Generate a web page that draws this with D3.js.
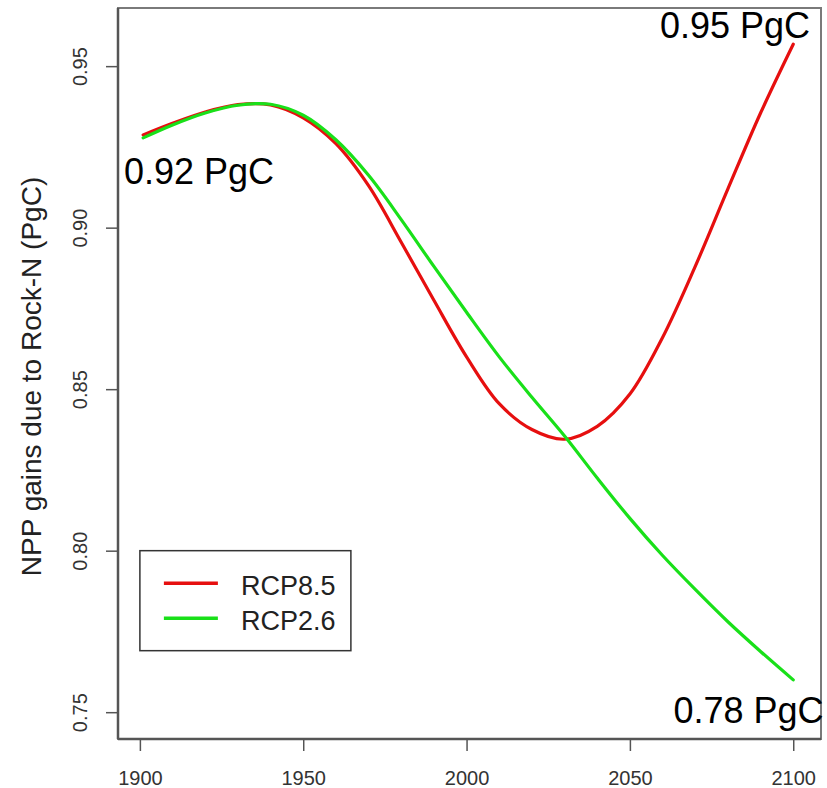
<!DOCTYPE html>
<html>
<head>
<meta charset="utf-8">
<script src="https://cdn.jsdelivr.net/npm/d3@7"></script>
<style>
	body { margin: 0; background: #fff; }
	text { font-family: "Liberation Sans", Arial, Helvetica, sans-serif; }
</style>
</head>
<body>
<div id="chart"></div>
<script>

// values (PgC)
const years = [1901, 1910, 1920, 1930, 1940, 1950, 1960, 1970, 1980, 1990, 2000,
	2010, 2020, 2030, 2040, 2050, 2060, 2070, 2080, 2090, 2100];
const rcp85 = [0.9287, 0.9323, 0.9358, 0.9381, 0.9380, 0.9340, 0.9260, 0.9130, 0.8955, 0.8775, 0.8600,
	0.8455, 0.8375, 0.8345, 0.8385, 0.8485, 0.8660, 0.8880, 0.9120, 0.9355, 0.9568];
const rcp26 = [0.9278, 0.9318, 0.9355, 0.9379, 0.9382, 0.9348, 0.9272, 0.9162, 0.9025, 0.8880, 0.8738,
	0.8600, 0.8475, 0.8355, 0.8225, 0.8100, 0.7985, 0.7880, 0.7780, 0.7688, 0.7600];

const seriesNames = ['RCP8.5', 'RCP2.6'];
const seriesColors = ['#e60f0f', '#19e019'];

const xTicks = [1900, 1950, 2000, 2050, 2100];
const yTicks = [0.75, 0.80, 0.85, 0.90, 0.95];

// annotations: text, year, value
const noteText = ['0.92 PgC', '0.95 PgC', '0.78 PgC'];
const noteYear = [1918.1, 2082.2, 2086.3];
const noteValue = [0.9174, 0.9625, 0.7507];

class LineChart {

	constructor(element) {
		this.element = element;
		this.draw();
	}

	draw() {
		this.width = 827;
		this.height = 788;
		this.box = { left: 118, right: 821, top: 8, bottom: 739 };

		this.createSVG();
		this.createScales();
		this.createAxes();
		this.createLines();
		this.createNotes();
		this.createLegend();
	}

	createSVG() {
		this.svg = d3.select(this.element)
			.append('svg')
				.attr('width', this.width)
				.attr('height', this.height);
	}

	createScales() {
		this.xScale = d3.scaleLinear()
			.domain([1893.3, 2108.5])
			.range([this.box.left, this.box.right]);

		this.yScale = d3.scaleLinear()
			.domain([0.7417, 0.968])
			.range([this.box.bottom, this.box.top]);
	}

	createAxes() {
		const b = this.box;

		this.svg.append('rect')
			.attr('x', b.left)
			.attr('y', b.top)
			.attr('width', b.right - b.left)
			.attr('height', b.bottom - b.top)
			.attr('fill', 'none')
			.attr('stroke', '#7a7a7a')
			.attr('stroke-width', 2);

		const xAxis = d3.axisBottom(this.xScale)
			.tickValues(xTicks)
			.tickFormat(d3.format('d'))
			.tickSize(12)
			.tickPadding(20);

		const gx = this.svg.append('g')
			.attr('class', 'xAxis')
			.attr('transform', `translate(0, ${b.bottom})`)
			.call(xAxis);

		gx.select('.domain').remove();
		gx.selectAll('line').attr('stroke', '#555').attr('stroke-width', 1.5);
		gx.selectAll('text')
			.attr('font-size', 20)
			.attr('fill', '#333');

		this.svg.append('line')
			.attr('x1', b.left).attr('x2', b.right)
			.attr('y1', b.bottom).attr('y2', b.bottom)
			.attr('stroke', '#555').attr('stroke-width', 2.5);

		const yAxis = d3.axisLeft(this.yScale)
			.tickValues(yTicks)
			.tickFormat(d3.format('.2f'))
			.tickSize(12);

		const gy = this.svg.append('g')
			.attr('class', 'yAxis')
			.attr('transform', `translate(${b.left}, 0)`)
			.call(yAxis);

		gy.select('.domain').remove();
		gy.selectAll('line').attr('stroke', '#555').attr('stroke-width', 1.5);
		// R style: labels parallel to the axis
		gy.selectAll('text')
			.attr('font-size', 20)
			.attr('fill', '#333')
			.attr('text-anchor', 'middle')
			.attr('x', 0)
			.attr('y', 0)
			.attr('dy', null)
			.attr('transform', 'translate(-31, 0) rotate(-90)');

		this.svg.append('line')
			.attr('x1', b.left).attr('x2', b.left)
			.attr('y1', b.top).attr('y2', b.bottom)
			.attr('stroke', '#555').attr('stroke-width', 2.5);

		this.svg.append('text')
			.attr('transform', `translate(41, ${(b.top + b.bottom) / 2 + 3}) rotate(-90)`)
			.attr('text-anchor', 'middle')
			.attr('font-size', 28)
			.attr('fill', '#222')
			.text('NPP gains due to Rock-N (PgC)');
	}

	createLines() {
		const that = this;
		const line = d3.line()
			.x(d => that.xScale(d[0]))
			.y(d => that.yScale(d[1]))
			.curve(d3.curveCatmullRom.alpha(0.5));

		[rcp85, rcp26].forEach((vals, i) => {
			this.svg.append('path')
				.datum(years.map((yr, j) => [yr, vals[j]]))
				.attr('fill', 'none')
				.attr('stroke', seriesColors[i])
				.attr('stroke-width', 3.2)
				.attr('stroke-linecap', 'round')
				.attr('d', line);
		});
	}

	createNotes() {
		this.svg.append('g')
			.selectAll('text')
			.data(noteText)
			.join('text')
				.attr('x', (d, i) => this.xScale(noteYear[i]))
				.attr('y', (d, i) => this.yScale(noteValue[i]))
				.attr('dy', '0.35em')
				.attr('text-anchor', 'middle')
				.attr('font-size', 36)
				.attr('fill', '#000')
				.text(d => d);
	}

	createLegend() {
		// legend anchored at (1900, 0.80) like R's legend()
		const x0 = this.xScale(1900);
		const y0 = this.yScale(0.80);

		const legend = this.svg.append('g')
			.attr('transform', `translate(${x0}, ${y0})`);

		legend.append('rect')
			.attr('width', 211)
			.attr('height', 100)
			.attr('fill', '#fff')
			.attr('stroke', '#333')
			.attr('stroke-width', 1.5);

		seriesNames.forEach((name, i) => {
			const cy = 32.5 + i * 35;
			legend.append('line')
				.attr('x1', 24).attr('x2', 78)
				.attr('y1', cy).attr('y2', cy)
				.attr('stroke', seriesColors[i])
				.attr('stroke-width', 3.5);
			legend.append('text')
				.attr('x', 101)
				.attr('y', cy + 11.5)
				.attr('font-size', 27)
				.attr('fill', '#222')
				.text(name);
		});
	}

}

new LineChart('#chart');

</script>
</body>
</html>
